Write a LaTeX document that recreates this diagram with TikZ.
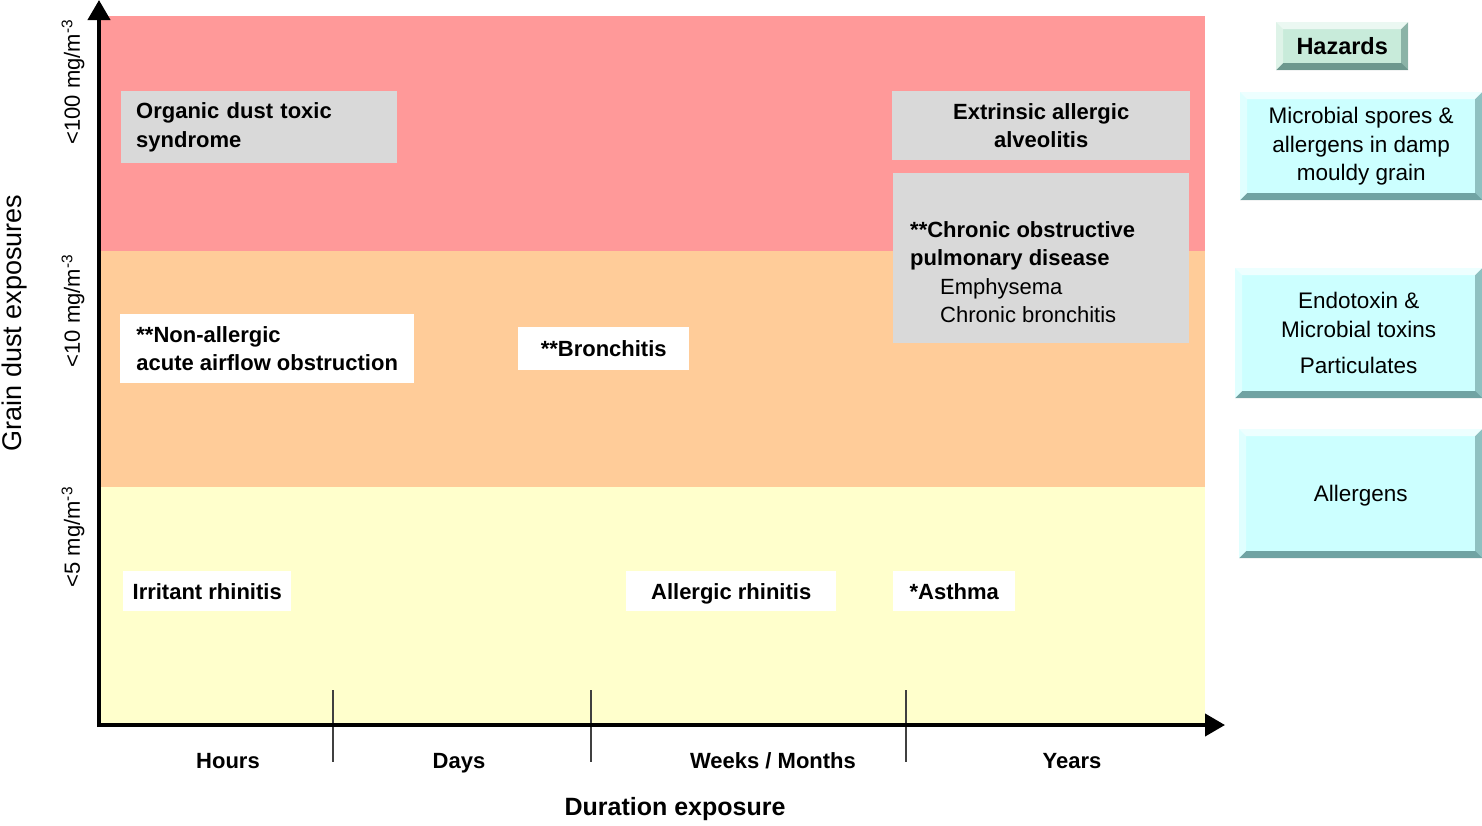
\documentclass[tikz,border=0pt]{standalone}
\usepackage{fontspec}
\setmainfont{Liberation Sans}
\usetikzlibrary{arrows.meta,calc}
\definecolor{bandred}{HTML}{FF9999}
\definecolor{bandorange}{HTML}{FFCC99}
\definecolor{bandyellow}{HTML}{FFFFCC}
\definecolor{boxgray}{HTML}{D9D9D9}
\definecolor{hazcyan}{HTML}{CCFFFF}
\definecolor{hazgreen}{HTML}{C8EBDA}
\newcommand\fsz[2]{\fontsize{#1}{#2}\selectfont}
\tikzset{
  every node/.style={inner sep=0pt},
  oneline/.style={text height=19.5pt, text depth=3.5pt},
  dis/.style={fill=white, font=\fsz{22}{28.5}\bfseries, align=center, anchor=north west},
  disg/.style={dis, fill=boxgray},
  bevelbox/.style={fill=#1, anchor=north west, align=center, font=\fsz{22.5}{28.5},
    path picture={
      \path (path picture bounding box.north west) coordinate (pNW)
            (path picture bounding box.north east) coordinate (pNE)
            (path picture bounding box.south west) coordinate (pSW)
            (path picture bounding box.south east) coordinate (pSE);
      \fill[white, opacity=.65] (pNW) -- (pNE) -- ([shift={(-7,7)}]pNE) -- ([shift={(7,7)}]pNW) -- cycle;
      \fill[white, opacity=.4] (pNW) -- ([shift={(7,7)}]pNW) -- ([shift={(7,-7)}]pSW) -- (pSW) -- cycle;
      \fill[black!60!teal, opacity=.3] (pNE) -- (pSE) -- ([shift={(-7,-7)}]pSE) -- ([shift={(-7,7)}]pNE) -- cycle;
      \fill[black!60!teal, opacity=.45] (pSW) -- (pSE) -- ([shift={(-7,-7)}]pSE) -- ([shift={(7,-7)}]pSW) -- cycle;
    }},
  axis/.style={line width=4pt, -{Triangle[length=20pt,width=22pt]}},
  tick/.style={line width=1.2pt, black!75},
  xlab/.style={font=\fsz{22}{26}\bfseries, oneline},
  ylab/.style={rotate=90, font=\fsz{22}{26}},
}
\begin{document}
\begin{tikzpicture}[x=1pt,y=-1pt]
\useasboundingbox (0,0) rectangle (1482,825);
\fill[white] (0,0) rectangle (1482,825);
% bands
\fill[bandred] (100,16) rectangle (1205,251);
\fill[bandorange] (100,251) rectangle (1205,487);
\fill[bandyellow] (100,487) rectangle (1205,724);
% ticks
\coordinate (t1a) at (333,690); \coordinate (t1b) at (333,762);
\coordinate (t2a) at (591,690); \coordinate (t2b) at (591,762);
\coordinate (t3a) at (906,690); \coordinate (t3b) at (906,762);
\draw[tick] (t1a) -- (t1b);
\draw[tick] (t2a) -- (t2b);
\draw[tick] (t3a) -- (t3b);
% axes
\coordinate (origin) at (99,727);
\coordinate (ytip) at (99,0);
\coordinate (xstart) at (97,725);
\coordinate (xtip) at (1225,725);
\draw[axis] (origin) -- (ytip);
\draw[axis] (xstart) -- (xtip);
% disease boxes
\node[disg, text width=246pt, inner xsep=15pt, align=left, minimum height=72pt] (ods) at (121,91) {Organic dust toxic\\syndrome};
\node[disg, minimum width=298pt, minimum height=69pt] (eaa) at (892,91) {Extrinsic allergic\\alveolitis};
\node[disg, minimum width=296pt, minimum height=170pt] (copd) at (893,173) {};
\node[anchor=west, align=left, font=\fsz{22}{28.5}] (copdtext) at (910,272) {\textbf{**Chronic obstructive}\\\textbf{pulmonary disease}\\\hspace*{30pt}Emphysema\\\hspace*{30pt}Chronic bronchitis};
\node[dis, align=left, minimum width=294pt, minimum height=69pt] (naao) at (120,314) {**Non-allergic\\acute airflow obstruction};
\node[dis, oneline, minimum width=171pt, minimum height=43pt] (bron) at (518,327) {**Bronchitis};
\node[dis, oneline, minimum width=168pt, minimum height=40pt] (irr) at (123,571) {Irritant rhinitis};
\node[dis, oneline, minimum width=210pt, minimum height=40pt] (allr) at (626,571) {Allergic rhinitis};
\node[dis, oneline, minimum width=122pt, minimum height=40pt] (asth) at (893,571) {*Asthma};
% hazards
\node[bevelbox=hazgreen, oneline, minimum width=132pt, minimum height=48pt, font=\fsz{23.5}{28}\bfseries] (haz) at (1276,22) {Hazards};
\node[bevelbox=hazcyan, minimum width=242pt, minimum height=108pt] (hz1) at (1240,92) {Microbial spores \&\\allergens in damp\\mouldy grain};
\node[bevelbox=hazcyan, minimum width=247pt, minimum height=130pt] (hz2) at (1235,268) {Endotoxin \&\\Microbial toxins\\[7.5pt]Particulates};
\node[bevelbox=hazcyan, oneline, minimum width=243pt, minimum height=129pt] (hz3) at (1239,429) {Allergens};
% axis labels
\node[xlab] (lh) at (228,760) {Hours};
\node[xlab] (ld) at (459,760) {Days};
\node[xlab] (lw) at (773,760) {Weeks / Months};
\node[xlab] (ly) at (1072,760) {Years};
\node[font=\fsz{25}{30}\bfseries, oneline] (dur) at (675,807) {Duration exposure};
\node[rotate=90, font=\fsz{27}{30}] (gde) at (15,323) {Grain dust exposures};
\node[ylab] (y100) at (73,82) {<100 mg/m\textsuperscript{-3}};
\node[ylab] (y10) at (73,311) {<10 mg/m\textsuperscript{-3}};
\node[ylab] (y5) at (73,537) {<5 mg/m\textsuperscript{-3}};
\end{tikzpicture}
\end{document}
